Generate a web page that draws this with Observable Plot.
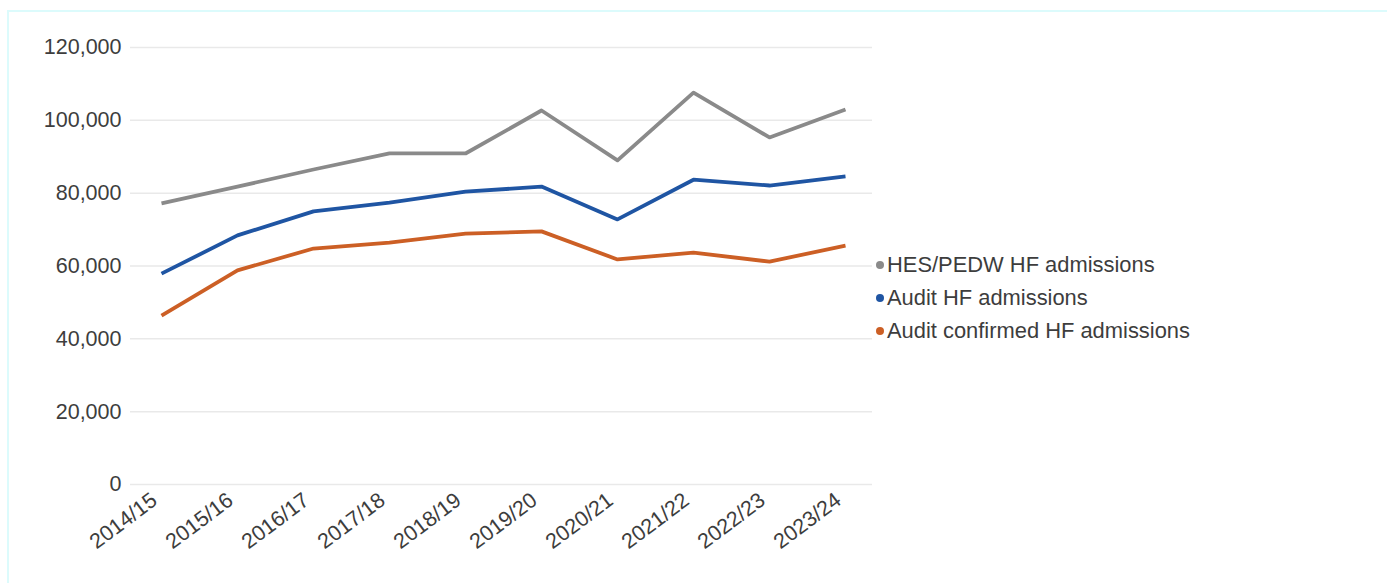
<!DOCTYPE html>
<html>
<head>
<meta charset="utf-8">
<script src="https://cdn.jsdelivr.net/npm/d3@7"></script>
<script src="https://cdn.jsdelivr.net/npm/@observablehq/plot@0.6"></script>
<style>
  html, body { margin: 0; padding: 0; background: #fff; }
  #wrap { position: relative; width: 1387px; height: 583px; overflow: hidden; font-family: "Liberation Sans", Arial, sans-serif; }
  #frame { position: absolute; left: 7px; top: 10px; width: 1400px; height: 600px; border-top: 2px solid #dcfbfc; border-left: 2px solid #dcfbfc; box-sizing: border-box; pointer-events: none; }
  #legend { position: absolute; left: 876px; top: 248px; font-size: 21.9px; color: #3d3d3d; line-height: 33px; }
  #legend .item { display: flex; align-items: center; white-space: nowrap; }
  #legend .sw { width: 8px; height: 8px; border-radius: 50%; margin-right: 3px; display: inline-block; }
</style>
</head>
<body>
<div id="wrap">
  <div id="chart"></div>
  <div id="frame"></div>
  <div id="legend"></div>
</div>
<script>
const years = ["2014/15","2015/16","2016/17","2017/18","2018/19","2019/20","2020/21","2021/22","2022/23","2023/24"];
const hesPedw = [77200, 81800, 86500, 90900, 90900, 102700, 89000, 107600, 95300, 103000];
const auditHF = [57900, 68400, 75000, 77400, 80400, 81800, 72800, 83700, 82100, 84600];
const auditConfirmed = [46400, 58800, 64800, 66400, 68900, 69500, 61800, 63700, 61200, 65600];
const seriesNames = ["HES/PEDW HF admissions", "Audit HF admissions", "Audit confirmed HF admissions"];
const seriesColors = ["#8a8a8a", "#1f55a3", "#cc5f25"];
const yTicks = [0, 20000, 40000, 60000, 80000, 100000, 120000];

const seriesValues = [hesPedw, auditHF, auditConfirmed];
const data = [];
seriesNames.forEach((s, i) => years.forEach((y, j) => data.push({series: s, year: y, value: seriesValues[i][j]})));

const chart = Plot.plot({
  width: 1387,
  height: 583,
  marginLeft: 130,
  marginRight: 515,
  marginTop: 47,
  marginBottom: 99,
  style: {fontFamily: "Liberation Sans, Arial, sans-serif", fontSize: "21.5px", color: "#3d3d3d", background: "transparent"},
  x: {type: "point", domain: years, range: [160, 845], padding: 0},
  y: {domain: [0, 120000]},
  color: {domain: seriesNames, range: seriesColors},
  marks: [
    Plot.gridY(yTicks, {stroke: "#e9e9e9", strokeOpacity: 1, strokeWidth: 1.5}),
    Plot.axisY(yTicks, {tickSize: 0, tickPadding: 9, tickFormat: d3.format(","), label: null, fontSize: 21.5, fill: "#3d3d3d"}),
    Plot.axisX({tickSize: 0, tickPadding: 10, tickRotate: -37, dx: -7, dy: 3, label: null, fontSize: 21.5, fill: "#3d3d3d"}),
    Plot.line(data, {x: "year", y: "value", z: "series", stroke: "series", strokeWidth: 3.8, strokeLinejoin: "round", strokeLinecap: "butt"})
  ]
});
document.getElementById("chart").appendChild(chart);

const legend = document.getElementById("legend");
seriesNames.forEach((s, i) => {
  const it = document.createElement("div");
  it.className = "item";
  it.innerHTML = `<span class="sw" style="background:${seriesColors[i]}"></span><span>${s}</span>`;
  legend.appendChild(it);
});
</script>
</body>
</html>
